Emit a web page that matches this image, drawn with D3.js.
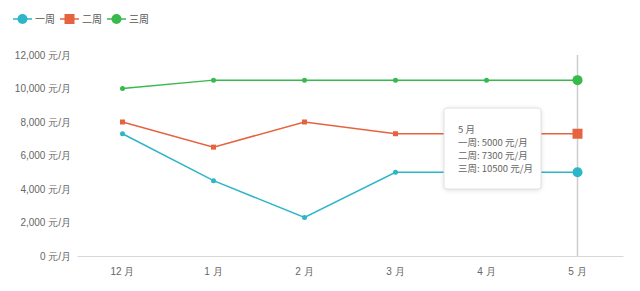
<!DOCTYPE html>
<html>
<head>
    <meta charset="utf-8">
    <script src="https://d3js.org/d3.v7.min.js"></script>
    <style>
        body, html { margin: 0; padding: 0; background: #fff; overflow: hidden; }
        svg { display: block; font-family: "Noto Sans CJK SC", "Noto Sans", sans-serif; }
        .tick text { fill: #666; font-size: 10px; }
    </style>
</head>
<body>
    <svg id="chart" width="640" height="291"></svg>
    <script>
        // chart data
        const months = ["12月", "1月", "2月", "3月", "4月", "5月"];
        const seriesNames = ["一周", "二周", "三周"];
        const week1 = [7300, 4500, 2300, 5000, 5000, 5000];
        const week2 = [8000, 6500, 8000, 7300, 7300, 7300];
        const week3 = [10000, 10500, 10500, 10500, 10500, 10500];
        const yTicks = [0, 2000, 4000, 6000, 8000, 10000, 12000];
        const hoverIndex = 5;

        const colors = ["#2db5c8", "#e5633e", "#37b94c"];
        const shapes = ["circle", "square", "circle"];
        const allSeries = [week1, week2, week3];

        const svg = d3.select("#chart");
        const margin = { left: 77, right: 17, top: 55, bottom: 35 };
        const width = 640, height = 291;

        const x = d3.scaleBand()
            .domain(months)
            .range([margin.left, width - margin.right]);

        const y = d3.scaleLinear()
            .domain([0, 12000])
            .range([height - margin.bottom, margin.top]);

        const fmt = d3.format(",");

        // y axis labels (no line)
        const yAxis = svg.append("g")
            .attr("transform", `translate(${margin.left},0)`)
            .call(d3.axisLeft(y).tickValues(yTicks).tickSize(0).tickPadding(6)
                .tickFormat(d => fmt(d) + " 元/月"));
        yAxis.select(".domain").remove();

        // x axis
        const xAxis = svg.append("g")
            .attr("transform", `translate(0,${y(0)})`)
            .call(d3.axisBottom(x).tickSize(0).tickPadding(12).tickFormat(d => d.replace("月", " 月")));
        xAxis.select(".domain").attr("stroke", "#d8d8d8");

        // hover line
        svg.append("line")
            .attr("x1", x(months[hoverIndex]) + x.bandwidth() / 2)
            .attr("x2", x(months[hoverIndex]) + x.bandwidth() / 2)
            .attr("y1", y(12000))
            .attr("y2", y(0))
            .attr("stroke", "#cccccc")
            .attr("stroke-width", 1.5);

        const cx = i => x(months[i]) + x.bandwidth() / 2;

        const line = d3.line()
            .x((d, i) => cx(i))
            .y(d => y(d));

        allSeries.forEach((vals, s) => {
            svg.append("path")
                .datum(vals)
                .attr("fill", "none")
                .attr("stroke", colors[s])
                .attr("stroke-width", 1.5)
                .attr("d", line);

            vals.forEach((v, i) => {
                const big = i === hoverIndex;
                if (shapes[s] === "square") {
                    const sz = big ? 10 : 5;
                    svg.append("rect")
                        .attr("x", cx(i) - sz / 2)
                        .attr("y", y(v) - sz / 2)
                        .attr("width", sz)
                        .attr("height", sz)
                        .attr("fill", colors[s]);
                } else {
                    svg.append("circle")
                        .attr("cx", cx(i))
                        .attr("cy", y(v))
                        .attr("r", big ? 5 : 2.5)
                        .attr("fill", colors[s]);
                }
            });
        });

        // legend
        const legendX = [13, 60, 107];
        seriesNames.forEach((name, s) => {
            const g = svg.append("g").attr("transform", `translate(${legendX[s]},19)`);
            g.append("line").attr("x1", 0).attr("x2", 19)
                .attr("stroke", colors[s]).attr("stroke-width", 1.5);
            if (shapes[s] === "square") {
                g.append("rect").attr("x", 4.5).attr("y", -5).attr("width", 10).attr("height", 10)
                    .attr("fill", colors[s]);
            } else {
                g.append("circle").attr("cx", 9.5).attr("r", 5).attr("fill", colors[s]);
            }
            g.append("text").attr("x", 22).attr("dy", "0.35em")
                .attr("font-size", 10).attr("fill", "#555").text(name);
        });

        // tooltip
        const tip = svg.append("g").attr("transform", "translate(444,108)");
        tip.append("rect")
            .attr("width", 97).attr("height", 81).attr("rx", 3)
            .attr("fill", "#fff").attr("stroke", "#e2e2e2")
            .style("filter", "drop-shadow(0 1px 2px rgba(0,0,0,0.12))");
        const tipLines = [months[hoverIndex].replace("月", " 月")]
            .concat(seriesNames.map((n, s) => `${n}: ${allSeries[s][hoverIndex]} 元/月`));
        tipLines.forEach((t, i) => {
            tip.append("text")
                .attr("x", 14).attr("y", 25 + i * 13)
                .attr("font-size", 9.5).attr("fill", "#666").text(t);
        });
    </script>
</body>
</html>
